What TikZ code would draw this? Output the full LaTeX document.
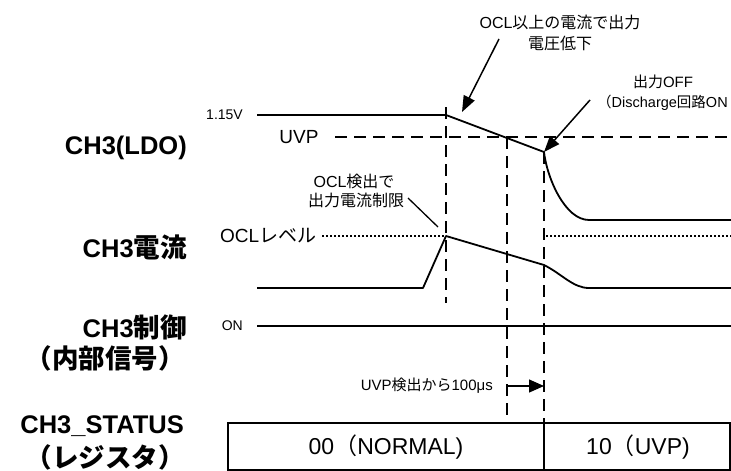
\documentclass[tikz,border=0pt]{standalone}
\usepackage{fontspec}
\setmainfont{Liberation Sans}
\newfontfamily\jp{Noto Sans CJK JP}
\newfontfamily\jpL[Scale=1.04]{Noto Sans CJK JP}
\usetikzlibrary{arrows.meta}
\newcommand{\fsz}[1]{\fontsize{#1}{#1}\selectfont}
\begin{document}
\begin{tikzpicture}[x=1pt,y=-1pt,
  wave/.style={line width=1.8pt,line join=round},
  guide/.style={line width=1.3pt,dash pattern=on 12pt off 7pt},
  dots/.style={line width=1.1pt,dash pattern=on 2pt off 2pt},
  side/.style={font=\fsz{25.5}\bfseries,anchor=east,inner sep=0pt},
  small/.style={font=\fsz{14},inner sep=0pt},
  note/.style={font=\fsz{15},inner sep=0pt},
  pointer/.style={line width=1.5pt,-{Triangle[length=16pt,width=12pt]}},
  boxline/.style={line width=1.5pt}]
\useasboundingbox (0,0) rectangle (731,471);

% side labels
\node[side] (l1) at (187,148) {CH3(LDO)};
\node[side] (l2) at (187,247) {CH3{\jpL 電流}};
\node[side] (l3) at (187,327) {CH3{\jpL 制御}};
\node[side] (l4) at (185,358) {\jpL （内部信号）};
\node[side] (l5) at (184,426) {CH3\_STATUS};
\node[side] (l6) at (185,457) {\jpL （レジスタ）};

% key coordinates
\coordinate (va) at (257,115);
\coordinate (vb) at (446,115);
\coordinate (vc) at (544,152);
\coordinate (vd) at (589,220);
\coordinate (ve) at (731,220);
\coordinate (ia) at (257,288);
\coordinate (ib) at (423,288);
\coordinate (ic) at (446,236);
\coordinate (id) at (544,265);
\coordinate (ie) at (589,288);
\coordinate (if) at (731,288);

% level labels
\node[small,anchor=east] (v115) at (243,115) {1.15V};
\node[font=\fsz{19},inner sep=0pt] (uvp) at (299,137) {UVP};
\node[font=\fsz{19},inner sep=0pt,anchor=west] (ocl) at (220,236) {OCL{\jp レベル}};
\node[small,anchor=east] (on) at (243,326) {ON};

% voltage waveform
\draw[wave] (va) -- (vb) -- (vc) .. controls (547,178) and (565,220) .. (vd) -- (ve);
% UVP threshold
\draw[guide] (335,137) -- (731,137);
% OCL level
\draw[dots] (ocl.east) ++(6,0) -- (446,236);
\draw[dots] (546,236) -- (731,236);
% current waveform
\draw[wave] (ia) -- (ib) -- (ic) -- (id) .. controls (562,274) and (573,288) .. (ie) -- (if);
% control
\draw[wave] (257,326) -- (731,326);

% vertical guides
\draw[guide] (446,107) -- (446,303);
\draw[guide] (507,137) -- (507,423);
\draw[guide] (544,152) -- (544,423);

% status box
\draw[boxline] (228,423) rectangle (730,470);
\draw[boxline] (544,423) -- (544,470);
\node[font=\fsz{23},inner sep=0pt] (s0) at (386,447) {00{\jp （}NORMAL)};
\node[font=\fsz{23},inner sep=0pt] (s1) at (638,447) {10{\jp （}UVP)};

% UVP delay
\node[note,anchor=east] (dly) at (493,386) {UVP{\jp 検出から}100μs};
\coordinate (d1) at (507,386);
\coordinate (d2) at (544,386);
\draw[line width=1.3pt,-{Triangle[length=15pt,width=13pt]}] (d1) -- (d2);

% annotations
\node[font=\fsz{16},inner sep=0pt] (n1a) at (560,22) {OCL{\jp 以上の電流で出力}};
\node[font=\fsz{16},inner sep=0pt] (n1b) at (560,43) {\jp 電圧低下};
\coordinate (n1s) at (499,39);
\coordinate (n1t) at (462,112);
\draw[pointer] (n1s) -- (n1t);

\node[note] (n2a) at (663,82) {{\jp 出力}OFF};
\node[font=\fsz{14.5},inner sep=0pt,anchor=west] (n2b) at (597,103) {{\jp （}Discharge{\jp 回路}ON};
\coordinate (n2s) at (590,100);
\draw[pointer] (n2s) -- (vc);

\node[font=\fsz{16},inner sep=0pt] (n3a) at (354,181) {OCL{\jp 検出で}};
\node[font=\fsz{16},inner sep=0pt] (n3b) at (356,200) {\jp 出力電流制限};
\coordinate (n3s) at (408,198);
\coordinate (n3t) at (438,227);
\draw[line width=1.3pt] (n3s) -- (n3t);
\end{tikzpicture}
\end{document}
